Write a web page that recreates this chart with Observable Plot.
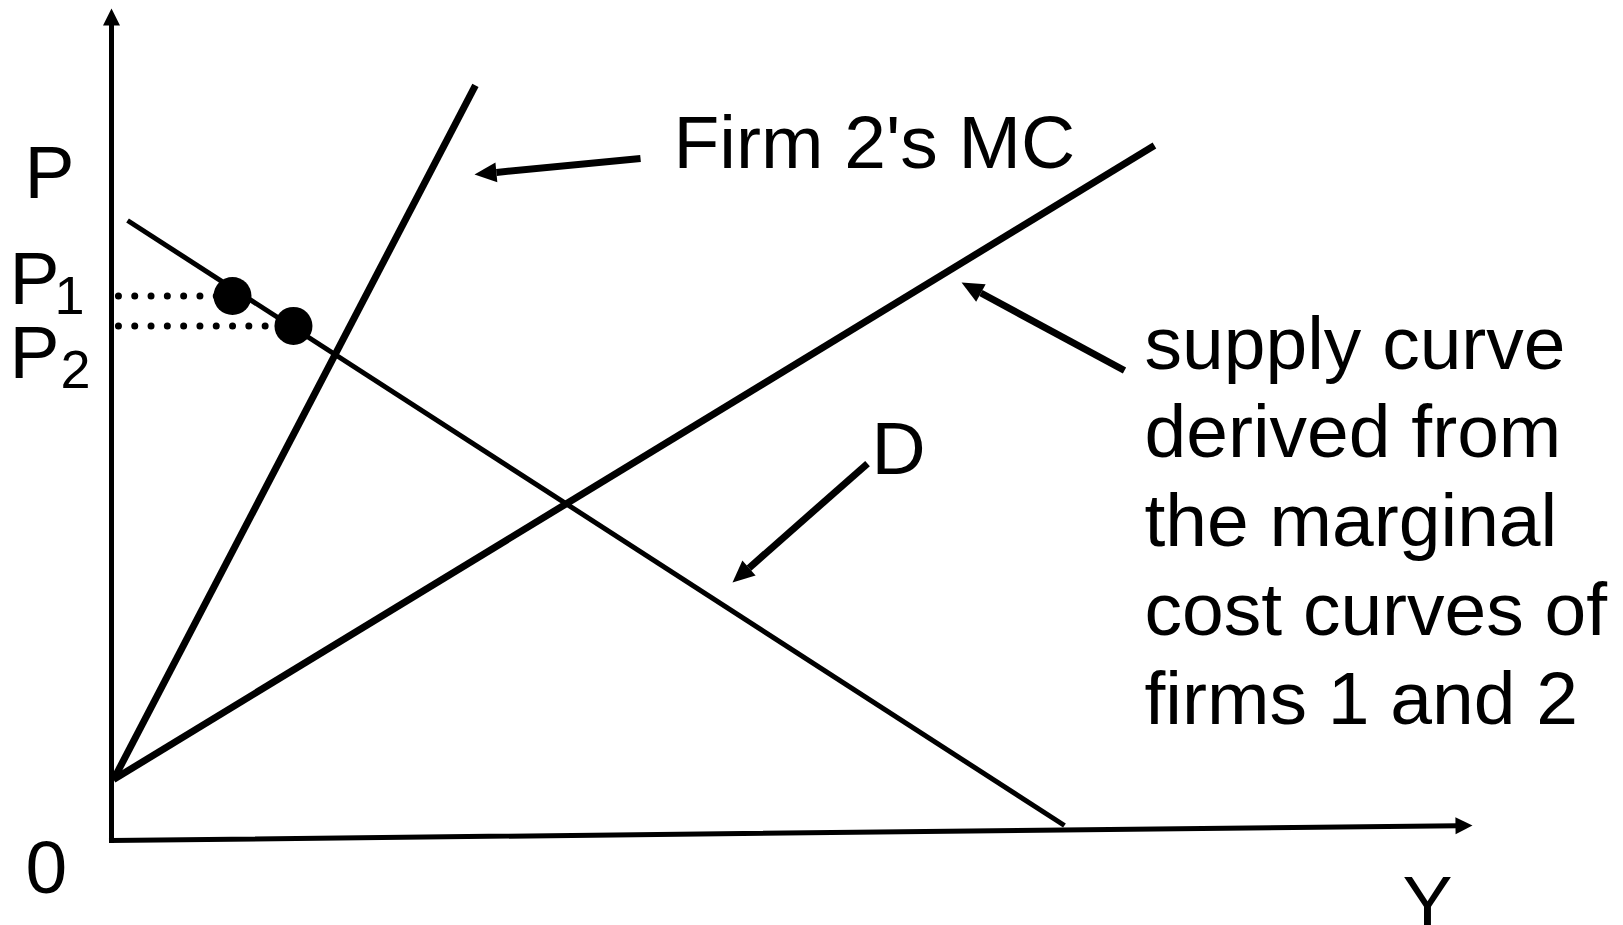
<!DOCTYPE html>
<html>
<head>
<meta charset="utf-8">
<script src="https://cdn.jsdelivr.net/npm/d3@7"></script>
<script src="https://cdn.jsdelivr.net/npm/@observablehq/plot@0.6"></script>
<style>
  html, body { margin: 0; padding: 0; background: #fff; }
  #chart svg { display: block; }
</style>
</head>
<body>
<div id="chart"></div>
<script>
// ---- Data (economic units: quantity Y on x, price P on y) ----
// axes: origin -> arrowhead base
const axisX1 = [0, 0];
const axisY1 = [0, 0];
const axisX2 = [0, 98.75];
const axisY2 = [97.96, 1.78];

const mc2X = [0.15, 26.74];
const mc2Y = [7.33, 90.75];

const supplyX = [0.15, 76.63];
const supplyY = [7.33, 83.53];

const demandX = [1.18, 70.02];
const demandY = [74.52, 1.80];

const eqQty = [8.89, 13.37];
const eqPrice = [65.45, 61.85];
const dottedStart = 0.51;

// annotation arrows: start -> arrowhead base
const arrowX1 = [38.87, 74.43, 55.55];
const arrowY1 = [81.97, 56.49, 45.31];
const arrowX2 = [28.28, 63.88, 46.84];
const arrowY2 = [80.30, 65.80, 32.75];

// labels
const mainLabels = ["Firm 2's MC", "D", "P", "P", "P"];
const mainLabelX = [41.29, 55.84, -6.39, -7.49, -7.49];
const mainLabelY = [80.77, 44.11, 77.28, 64.54, 55.53];

const subLabels = ["1", "2"];
const subLabelX = [-4.19, -3.75];
const subLabelY = [63.34, 54.33];

const originLabel = "0";
const quantityLabel = "Y";
const centerLabelX = [-4.78, 96.69];
const centerLabelY = [-6.25, -10.46];

const supplyText = "supply curve\nderived from\nthe marginal\ncost curves of\nfirms 1 and 2";
const supplyTextX = 75.9;
const supplyTextY = 14.06;

// ---- Build ----
const pts = (xs, ys) => xs.map((x, i) => ({x, y: ys[i]}));
const segs = (x1s, y1s, x2s, y2s) => x1s.map((x1, i) => ({x1, y1: y1s[i], x2: x2s[i], y2: y2s[i]}));
const font = "'Liberation Sans', Arial, Helvetica, sans-serif";
const FS = 75;

const svg = Plot.plot({
  width: 1623,
  height: 925,
  marginLeft: 111,
  marginRight: 151,
  marginTop: 8,
  marginBottom: 85,
  x: {domain: [0, 100], axis: null},
  y: {domain: [0, 100], axis: null},
  style: {fontFamily: font, background: "white", overflow: "visible"},
  marks: [
    // axes with arrowheads
    Plot.link(segs(axisX1, axisY1, axisX2, axisY2), {
      x1: "x1", y1: "y1", x2: "x2", y2: "y2", stroke: "#000", strokeWidth: 5,
      strokeLinecap: "square", markerEnd: "arrow"}),
    // curves
    Plot.line(pts(mc2X, mc2Y), {x: "x", y: "y", stroke: "black", strokeWidth: 7, strokeLinecap: "butt"}),
    Plot.line(pts(supplyX, supplyY), {x: "x", y: "y", stroke: "black", strokeWidth: 7, strokeLinecap: "butt"}),
    Plot.line(pts(demandX, demandY), {x: "x", y: "y", stroke: "black", strokeWidth: 5, strokeLinecap: "butt"}),
    // dotted price lines
    Plot.link(eqPrice.map((p, i) => ({x1: dottedStart, x2: eqQty[i], y: p})), {
      x1: "x1", x2: "x2", y1: "y", y2: "y", stroke: "black", strokeWidth: 7,
      strokeLinecap: "round", strokeDasharray: "0 16.3"}),
    // equilibrium dots
    Plot.dot(pts(eqQty, eqPrice), {x: "x", y: "y", r: 19, fill: "black", stroke: null}),
    // annotation arrows
    Plot.link(segs(arrowX1, arrowY1, arrowX2, arrowY2), {
      x1: "x1", y1: "y1", x2: "x2", y2: "y2", stroke: "black", strokeWidth: 7,
      strokeLinecap: "butt", markerEnd: "arrow"}),
    // labels
    Plot.text(mainLabels.map((t, i) => ({t, x: mainLabelX[i], y: mainLabelY[i]})), {
      x: "x", y: "y", text: "t", fontSize: FS, textAnchor: "start", lineAnchor: "bottom", fill: "black"}),
    Plot.text(subLabels.map((t, i) => ({t, x: subLabelX[i], y: subLabelY[i]})), {
      x: "x", y: "y", text: "t", fontSize: 54, textAnchor: "start", lineAnchor: "bottom", fill: "black"}),
    Plot.text([originLabel, quantityLabel].map((t, i) => ({t, x: centerLabelX[i], y: centerLabelY[i]})), {
      x: "x", y: "y", text: "t", fontSize: FS, textAnchor: "middle", lineAnchor: "bottom", fill: "black"}),
    Plot.text([{t: supplyText, x: supplyTextX, y: supplyTextY}], {
      x: "x", y: "y", text: "t", fontSize: FS, lineHeight: 1.183, textAnchor: "start", lineAnchor: "bottom", fill: "black"})
  ]
});

// filled triangular arrowheads
svg.querySelectorAll("marker").forEach(m => {
  const axis = m.getAttribute("stroke") === "#000";
  const L = axis ? 17 : 22, W = axis ? 17 : 20;
  m.setAttribute("markerUnits", "userSpaceOnUse");
  m.setAttribute("orient", "auto");
  m.setAttribute("viewBox", `-2 ${-W / 2 - 2} ${L + 4} ${W + 4}`);
  m.setAttribute("markerWidth", L + 4);
  m.setAttribute("markerHeight", W + 4);
  m.setAttribute("fill", "black");
  m.setAttribute("stroke", "none");
  m.setAttribute("overflow", "visible");
  const p = m.querySelector("path");
  if (p) p.setAttribute("d", `M0,${-W / 2}L${L},0L0,${W / 2}Z`);
});

document.getElementById("chart").appendChild(svg);
</script>
</body>
</html>
